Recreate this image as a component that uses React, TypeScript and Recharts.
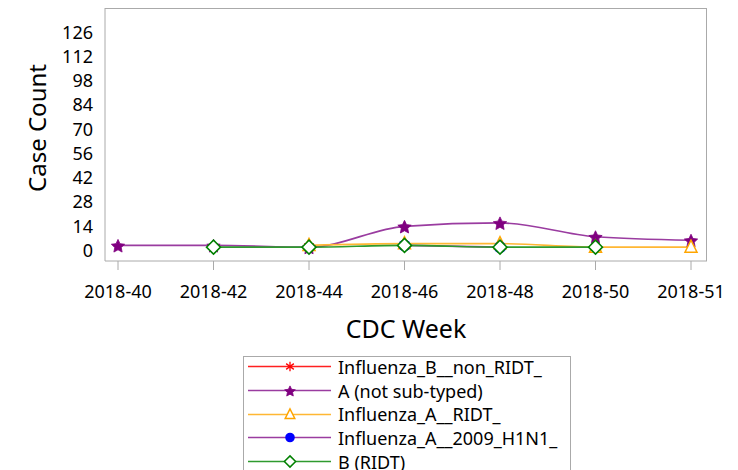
import React from "react";
import { LineChart, Line, XAxis, YAxis } from "recharts";

const weeks = ["2018-40", "2018-42", "2018-44", "2018-46", "2018-48", "2018-50", "2018-51"];
const fluBNonRidt = [null, null, 2, null, null, null, null];
const aNotSubtyped = [3, 3, 2, 14, 16, 8, 6];
const fluARidt = [null, null, 3, 4, 4, 2, 2];
const fluAH1N1 = [null, null, null, 3, 2, null, null];
const bRidt = [null, 2, 2, 3, 2, 2, null];
const yTicks = [0, 14, 28, 42, 56, 70, 84, 98, 112, 126];

const FONT = "'Noto Sans', sans-serif";

const data = weeks.map((week, i) => ({
    week,
    bNon: fluBNonRidt[i],
    aNot: aNotSubtyped[i],
    aRidt: fluARidt[i],
    h1n1: fluAH1N1[i],
    bRidt: bRidt[i],
}));

type Shape = "asterisk" | "star" | "triangle" | "circle" | "diamond";

function Marker({ shape, cx, cy, s = 1 }: { shape: Shape; cx: number; cy: number; s?: number }) {
    if (shape === "asterisk") {
        const r = 6 * s;
        return (
            <g stroke="#ff0000" strokeWidth={1.3}>
                <line x1={cx} y1={cy - r} x2={cx} y2={cy + r} />
                <line x1={cx - r * 0.8} y1={cy - r * 0.6} x2={cx + r * 0.8} y2={cy + r * 0.6} />
                <line x1={cx - r * 0.8} y1={cy + r * 0.6} x2={cx + r * 0.8} y2={cy - r * 0.6} />
            </g>
        );
    }
    if (shape === "star") {
        const pts: string[] = [];
        for (let k = 0; k < 10; k++) {
            const r = (k % 2 === 0 ? 7 : 3.4) * s;
            const a = -Math.PI / 2 + (k * Math.PI) / 5;
            pts.push(`${cx + r * Math.cos(a)},${cy + 1 + r * Math.sin(a)}`);
        }
        return <polygon points={pts.join(" ")} fill="#800080" stroke="#800080" strokeWidth={0.8} />;
    }
    if (shape === "triangle") {
        return (
            <polygon
                points={`${cx},${cy - 7 * s} ${cx - 6 * s},${cy + 5 * s} ${cx + 6 * s},${cy + 5 * s}`}
                fill="#fff"
                stroke="#ffa500"
                strokeWidth={1.5}
            />
        );
    }
    if (shape === "circle") {
        return <circle cx={cx} cy={cy} r={6 * s} fill="#0000ff" />;
    }
    const d = 7 * s;
    return (
        <polygon
            points={`${cx},${cy - d} ${cx + d},${cy} ${cx},${cy + d} ${cx - d},${cy}`}
            fill="#fff"
            stroke="#008000"
            strokeWidth={1.5}
        />
    );
}

const makeDot = (shape: Shape) => (props: any) => {
    const { cx, cy, index, value } = props;
    if (cx == null || cy == null || value == null) return <g key={index} />;
    return (
        <g key={index}>
            <Marker shape={shape} cx={cx} cy={cy} />
        </g>
    );
};

const series = [
    { key: "bNon", name: "Influenza_B__non_RIDT_", line: "#ff2020", shape: "asterisk" as Shape },
    { key: "aNot", name: "A (not sub-typed)", line: "#9a3ca0", shape: "star" as Shape },
    { key: "aRidt", name: "Influenza_A__RIDT_", line: "#ffb733", shape: "triangle" as Shape },
    { key: "h1n1", name: "Influenza_A__2009_H1N1_", line: "#9a3ca0", shape: "circle" as Shape },
    { key: "bRidt", name: "B (RIDT)", line: "#2e9a2e", shape: "diamond" as Shape },
];

function YTitle() {
    return (
        <text
            transform="translate(46,128) rotate(-90)"
            textAnchor="middle"
            fontFamily={FONT}
            fontSize={24}
            fill="#000"
        >
            Case Count
        </text>
    );
}

export default function App() {
    return (
        <div style={{ position: "absolute", left: 0, top: 0, width: 738, height: 470, background: "#fff", overflow: "hidden" }}>
            <LineChart
                width={738}
                height={470}
                data={data}
                margin={{ top: 8, right: 31, left: 0, bottom: 119 }}
            >
                <XAxis
                    dataKey="week"
                    height={90}
                    padding={{ left: 13, right: 16 }}
                    interval={0}
                    stroke="#aaa"
                    tickSize={9}
                    tickMargin={15}
                    tick={{ fill: "#000", fontSize: 18, fontFamily: FONT }}
                    label={{ value: "CDC Week", position: "insideTop", offset: 59, fill: "#000", fontSize: 25, fontFamily: FONT }}
                />
                <YAxis
                    width={105}
                    domain={[-6, 140]}
                    ticks={yTicks}
                    interval={0}
                    allowDataOverflow
                    stroke="#aaa"
                    tickLine={false}
                    tickSize={0}
                    tickMargin={12}
                    tick={{ fill: "#000", fontSize: 18, fontFamily: FONT }}
                    label={<YTitle />}
                />
                {series.map((s) => (
                    <Line
                        key={s.key}
                        dataKey={s.key}
                        name={s.name}
                        type="monotone"
                        stroke={s.line}
                        strokeWidth={1.6}
                        dot={makeDot(s.shape)}
                        activeDot={false}
                        isAnimationActive={false}
                    />
                ))}
            </LineChart>
            {/* plot frame */}
            <div
                style={{
                    position: "absolute",
                    left: 105,
                    top: 8,
                    width: 602,
                    height: 253,
                    borderTop: "1px solid #aaa",
                    borderRight: "1px solid #aaa",
                    boxSizing: "border-box",
                    pointerEvents: "none",
                }}
            />
            <div
                style={{
                    position: "absolute",
                    left: 243,
                    top: 356,
                    width: 328,
                    height: 140,
                    border: "1px solid #aaa",
                    boxSizing: "border-box",
                    fontFamily: FONT,
                    fontSize: 18,
                }}
            >
                {series.map((s, i) => (
                    <div
                        key={s.key}
                        style={{ height: 23.7, marginTop: i === 0 ? -2 : 0, display: "flex", alignItems: "center", whiteSpace: "nowrap" }}
                    >
                        <svg width={94} height={23} style={{ flex: "none" }}>
                            <line x1={4} y1={11.5} x2={87} y2={11.5} stroke={s.line} strokeWidth={1.6} />
                            <Marker shape={s.shape} cx={46} cy={11.5} s={0.8} />
                        </svg>
                        <span>{s.name}</span>
                    </div>
                ))}
            </div>
        </div>
    );
}
